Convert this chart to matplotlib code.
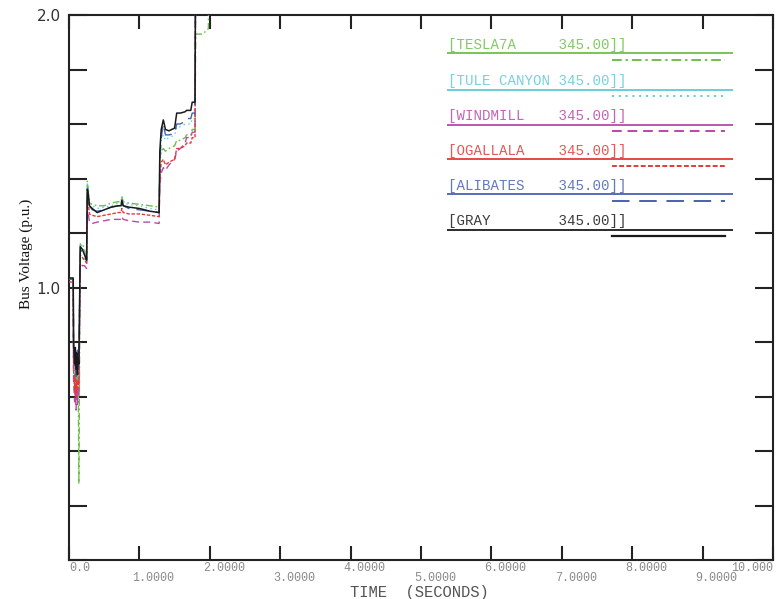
import matplotlib
matplotlib.use("Agg")
import matplotlib.pyplot as plt
from matplotlib.transforms import blended_transform_factory, offset_copy

# Simulation time (s)
time_s = [0.00, 0.06, 0.065, 0.08, 0.09, 0.10, 0.11, 0.12, 0.13, 0.14, 0.16, 0.19,
          0.22, 0.25, 0.26, 0.27, 0.29, 0.33, 0.40, 0.50, 0.60, 0.70, 0.74, 0.75,
          0.77, 0.85, 1.00, 1.15, 1.28, 1.29, 1.31, 1.34, 1.37, 1.42, 1.50, 1.53,
          1.58, 1.65, 1.67, 1.73, 1.75, 1.79, 1.80, 1.90, 1.98, 1.99, 2.05]

# Bus voltages (p.u.)
v_gray = [1.035, 1.035, 0.80, 0.72, 0.78, 0.70, 0.76, 0.68, 0.74, 0.72, 1.15, 1.14,
          1.12, 1.10, 1.36, 1.35, 1.30, 1.29, 1.275, 1.285, 1.295, 1.30, 1.30, 1.32,
          1.30, 1.295, 1.29, 1.28, 1.275, 1.50, 1.58, 1.615, 1.58, 1.575, 1.585, 1.64,
          1.64, 1.645, 1.65, 1.65, 1.68, 1.68, 2.30, 2.30, 2.30, 2.30, 2.30]
v_alibates = [1.03, 1.03, 0.78, 0.70, 0.75, 0.66, 0.74, 0.77, 0.70, 0.72, 1.14, 1.13,
              1.11, 1.10, 1.37, 1.35, 1.30, 1.285, 1.28, 1.285, 1.295, 1.30, 1.30, 1.32,
              1.30, 1.29, 1.285, 1.28, 1.275, 1.45, 1.55, 1.60, 1.56, 1.56, 1.565, 1.60,
              1.60, 1.61, 1.62, 1.62, 1.64, 1.64, 2.30, 2.30, 2.30, 2.30, 2.30]
v_ogallala = [1.02, 1.02, 0.70, 0.62, 0.68, 0.60, 0.66, 0.62, 0.66, 0.64, 1.12, 1.11,
              1.10, 1.09, 1.33, 1.32, 1.27, 1.265, 1.26, 1.265, 1.27, 1.275, 1.275, 1.29,
              1.275, 1.27, 1.27, 1.265, 1.26, 1.40, 1.46, 1.47, 1.45, 1.46, 1.47, 1.51,
              1.51, 1.52, 1.53, 1.53, 1.55, 1.55, 2.30, 2.30, 2.30, 2.30, 2.30]
v_windmill = [1.03, 1.03, 0.66, 0.58, 0.64, 0.55, 0.62, 0.57, 0.62, 0.60, 1.09, 1.08,
              1.08, 1.07, 1.30, 1.28, 1.24, 1.235, 1.24, 1.245, 1.25, 1.25, 1.25, 1.26,
              1.25, 1.245, 1.24, 1.24, 1.235, 1.38, 1.42, 1.44, 1.43, 1.45, 1.47, 1.50,
              1.51, 1.53, 1.55, 1.55, 1.57, 1.57, 2.30, 2.30, 2.30, 2.30, 2.30]
v_tule_canyon = [1.03, 1.03, 0.76, 0.70, 0.74, 0.66, 0.72, 0.70, 0.75, 0.72, 1.16, 1.15,
                 1.13, 1.11, 1.38, 1.36, 1.31, 1.30, 1.29, 1.295, 1.30, 1.31, 1.31, 1.33,
                 1.31, 1.305, 1.30, 1.29, 1.285, 1.48, 1.54, 1.56, 1.54, 1.55, 1.56, 1.59,
                 1.59, 1.60, 1.60, 1.60, 1.62, 1.62, 2.30, 2.30, 2.30, 2.30, 2.30]
v_tesla7a = [1.03, 1.03, 0.74, 0.62, 0.76, 0.60, 0.74, 0.59, 0.72, 0.28, 1.16, 1.16,
             1.14, 1.09, 1.39, 1.37, 1.31, 1.305, 1.30, 1.30, 1.31, 1.315, 1.315, 1.335,
             1.315, 1.31, 1.305, 1.30, 1.295, 1.46, 1.50, 1.51, 1.50, 1.51, 1.52, 1.54,
             1.54, 1.55, 1.56, 1.56, 1.58, 1.58, 1.93, 1.93, 1.95, 2.30, 2.30]

bus_names = ["TESLA7A", "TULE CANYON", "WINDMILL", "OGALLALA", "ALIBATES", "GRAY"]
bus_kv = ["345.00", "345.00", "345.00", "345.00", "345.00", "345.00"]
bus_values = [v_tesla7a, v_tule_canyon, v_windmill, v_ogallala, v_alibates, v_gray]
bus_colors = ["#6cc04a", "#5fc9da", "#b84aa8", "#e23a3a", "#4862b0", "#1a1a1a"]
bus_styles = [(0, (5, 2, 1.2, 2)), (0, (1, 2.5)), (0, (5, 3)), (0, (2.5, 1.2)),
              (0, (9, 5)), "-"]

x_ticks = [0, 1, 2, 3, 4, 5, 6, 7, 8, 9, 10]
x_tick_labels = ["0.0", "1.0000", "2.0000", "3.0000", "4.0000", "5.0000",
                 "6.0000", "7.0000", "8.0000", "9.0000", "10.000"]
y_ticks = [0.0, 0.2, 0.4, 0.6, 0.8, 1.0, 1.2, 1.4, 1.6, 1.8, 2.0]
y_tick_labels = ["", "", "", "", "", "1.0", "", "", "", "", "2.0"]

fig = plt.figure(figsize=(7.78, 5.99), dpi=100)
ax = fig.add_axes([69 / 778, 39 / 599, 704 / 778, 545 / 599])

# curves, black drawn last so it sits on top
for vals, col, ls in zip(bus_values, bus_colors, bus_styles):
    ax.plot(time_s, vals, color=col, linestyle=ls,
            linewidth=1.1 if col == "#1a1a1a" else 1.0, zorder=3)

ax.set_xlim(0, 10)
ax.set_ylim(0, 2.0)

for s in ax.spines.values():
    s.set_linewidth(1.5)
    s.set_color("#222222")

ax.set_yticks(y_ticks)
ax.set_yticklabels(y_tick_labels, fontfamily="DejaVu Sans", fontsize=11, color="#333333")
ax.tick_params(axis="y", which="both", direction="in", length=13, width=1.5,
               left=True, right=True, pad=6, colors="#222222", labelcolor="#333333")
ax.set_xticks(x_ticks)
ax.set_xticklabels([])
ax.tick_params(axis="x", which="both", direction="in", length=10, width=1.5,
               bottom=True, top=True, colors="#222222")

# staggered time labels below the axis
trans = blended_transform_factory(ax.transData, ax.transAxes)
for i, (xt, lab) in enumerate(zip(x_ticks, x_tick_labels)):
    if i == 0:
        dx, ha = 0, "left"
    elif i == len(x_ticks) - 1:
        dx, ha = 0, "right"
    else:
        dx, ha = -5, "left"
    dy = -6 if i % 2 == 0 else -13
    t = offset_copy(trans, fig=fig, x=dx, y=dy, units="points")
    ax.text(xt, 0, lab, transform=t, ha=ha, va="center",
            fontfamily="Liberation Mono", fontsize=8.5, color="#8a8a8a")

fig.text(419 / 778, 1 - 592 / 599, "TIME  (SECONDS)", ha="center", va="center",
         fontfamily="Liberation Mono", fontsize=11.2, color="#555555")
fig.text(26 / 778, 1 - 254 / 599, "Bus Voltage (p.u.)", rotation=90,
         ha="center", va="center", fontfamily="Liberation Serif", fontsize=11,
         color="#111111")

# channel identification block
row_y = [0.930, 0.863, 0.799, 0.735, 0.671, 0.606]
for name, kv, col, ls, yy in zip(bus_names, bus_kv, bus_colors, bus_styles, row_y):
    label = "[" + name.ljust(12) + kv + "]]"
    ax.text(0.538, yy + 0.003, label, transform=ax.transAxes, ha="left", va="bottom",
            fontfamily="Liberation Mono", fontsize=10.2, color=col, alpha=0.85)
    ax.plot([0.537, 0.943], [yy, yy], transform=ax.transAxes, color=col,
            linewidth=1.3, solid_capstyle="butt")
    ax.plot([0.771, 0.932], [yy - 0.012, yy - 0.012], transform=ax.transAxes,
            color=col, linestyle=ls, linewidth=1.6 if ls == "-" else 1.4)

fig.savefig("out.png", dpi=100, facecolor="white")
